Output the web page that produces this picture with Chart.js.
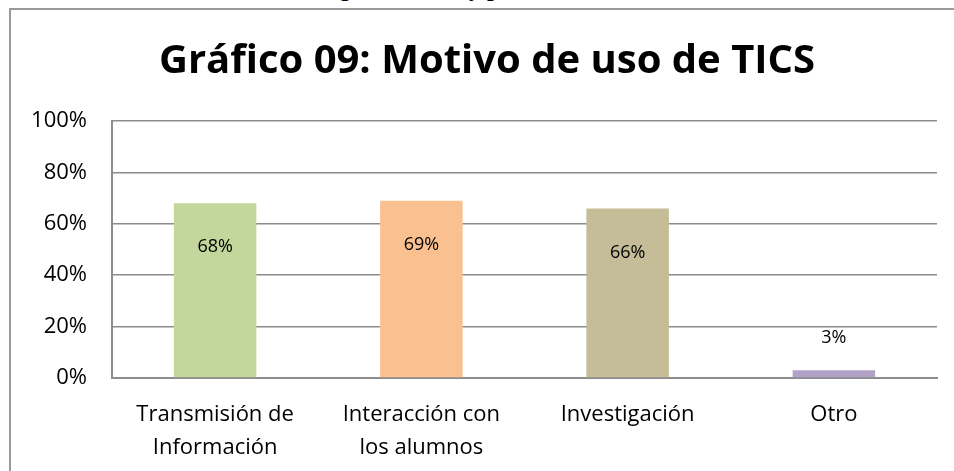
<!DOCTYPE html>
<html>
<head>
  <meta charset="utf-8">
  <title>Gráfico 09: Motivo de uso de TICS</title>
  <script src="https://cdn.jsdelivr.net/npm/chart.js"></script>
  <style>
    html, body { margin: 0; padding: 0; background: #fff; overflow: hidden; }
    .page { position: relative; width: 954px; height: 471px; overflow: hidden; }
    .cut { position: absolute; top: -25px; left: 0; width: 954px; text-align: center;
           font: bold 24px "Liberation Serif", serif; color: #000; padding-left: 20px; }
    .frame { position: absolute; left: 9px; top: 8px; width: 1000px; height: 500px;
             border: 2px solid #9a9a9a; }
    canvas { position: absolute; left: 0; top: 0; }
  </style>
</head>
<body>
  <div class="page">
    <div class="cut">Categoría de uso y perfil, 2013, docentes</div>
    <div class="frame"></div>
    <canvas id="chart" width="954" height="471"></canvas>
  </div>

  <script>
    const title = 'Gráfico 09: Motivo de uso de TICS';
    const categories = [['Transmisión de', 'Información'], ['Interacción con', 'los alumnos'], 'Investigación', 'Otro'];
    const values = [0.68, 0.69, 0.66, 0.03];
    const colors = ['#c3d69b', '#fac090', '#c4bd97', '#b3a2c7'];
    const yTicks = [0, 0.2, 0.4, 0.6, 0.8, 1];

    const font = '"Open Sans", sans-serif';

    // title + value labels drawn on top of the chart
    const extras = {
      id: 'extras',
      afterDraw(chart) {
        const ctx = chart.ctx;
        ctx.save();
        ctx.fillStyle = '#000';
        ctx.textAlign = 'center';
        ctx.textBaseline = 'middle';
        ctx.font = `bold 40px ${font}`;
        ctx.fillText(title, 487, 62);

        ctx.font = `18px ${font}`;
        chart.getDatasetMeta(0).data.forEach((bar, i) => {
          const v = values[i];
          const y = v > 0.1 ? bar.y + 44 : bar.y - 32;
          ctx.fillText(Math.round(v * 100) + '%', bar.x, y);
        });
        ctx.restore();
      }
    };

    new Chart(document.getElementById('chart'), {
      type: 'bar',
      data: {
        labels: categories,
        datasets: [{
          data: values,
          backgroundColor: colors,
          borderWidth: 0,
          categoryPercentage: 1,
          barPercentage: 0.4
        }]
      },
      options: {
        responsive: false,
        animation: false,
        layout: { padding: { top: 121, right: 17, left: 0, bottom: 0 } },
        plugins: { legend: { display: false }, title: { display: false }, tooltip: { enabled: false } },
        scales: {
          x: {
            grid: { display: false, drawTicks: false },
            border: { color: '#8c8c8c', width: 2 },
            ticks: { color: '#000', font: { family: font, size: 22, lineHeight: 1.5 }, padding: 20, maxRotation: 0 },
            afterFit: s => { s.height = 93; }
          },
          y: {
            min: 0, max: 1,
            afterBuildTicks: s => { s.ticks = yTicks.map(v => ({ value: v })); },
            grid: { color: '#8c8c8c', lineWidth: 1.5, drawTicks: false },
            border: { color: '#8c8c8c', width: 2 },
            ticks: {
              color: '#000', font: { family: font, size: 22 }, padding: 25,
              callback: v => Math.round(v * 100) + '%'
            },
            afterFit: s => { s.width = 112; }
          }
        }
      },
      plugins: [extras]
    });
  </script>
</body>
</html>
